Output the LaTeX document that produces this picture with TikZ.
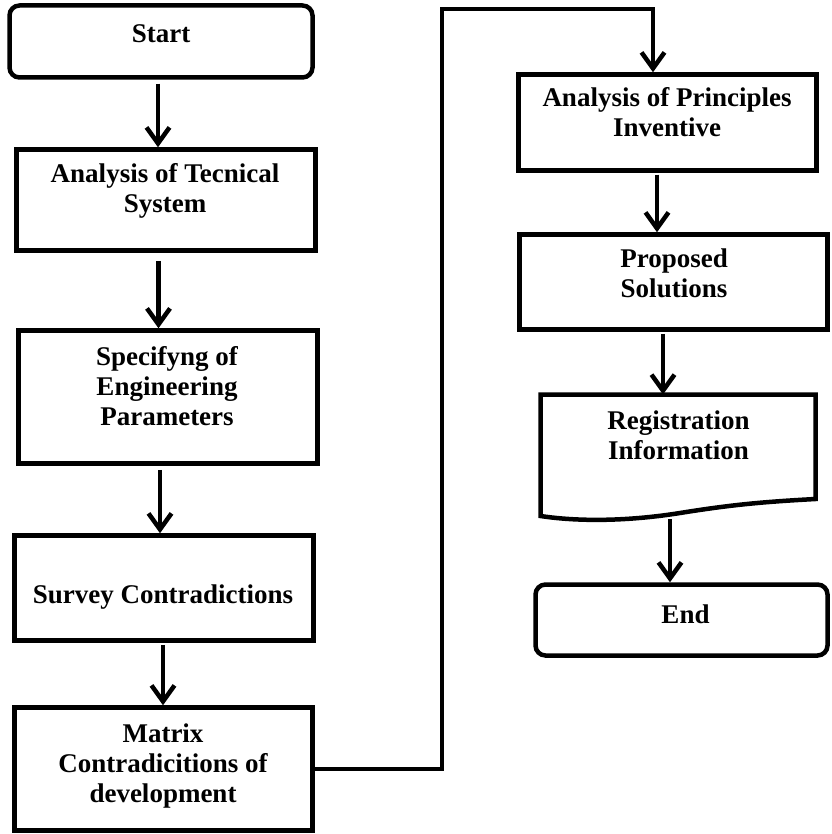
\documentclass[tikz,border=0pt]{standalone}
\usepackage{fontspec}
\setmainfont{Liberation Serif}
\usetikzlibrary{arrows.meta}
\newcommand\mylines[1]{\begin{tabular}[t]{@{}c@{}}#1\end{tabular}}
\begin{document}
\begin{tikzpicture}[x=1pt,y=-1pt,
  box/.style={draw, line width=4.5pt, inner sep=0pt},
  rbox/.style={box, rounded corners=10pt},
  txt/.style={font=\bfseries\fontsize{27}{30}\selectfont, anchor=base, inner sep=0pt},
  arr/.style={line width=4.5pt, -{Straight Barb[length=16pt,width=23pt]}},
  conn/.style={line width=4.5pt}]
\useasboundingbox[fill=white] (0,0) rectangle (831,834);
% left column
\node[rbox, minimum width=303pt, minimum height=72pt] (start) at (161,41.5) {};
\node[txt] (tstart) at (161,43) {Start};
\node[box, minimum width=299pt, minimum height=101pt] (a1) at (166,200) {};
\node[txt] (ta1) at (165,183) {\mylines{Analysis of Tecnical\\System}};
\node[box, minimum width=299pt, minimum height=133pt] (a2) at (168,397) {};
\node[txt] (ta2) at (167,365) {\mylines{Specifyng of\\Engineering\\Parameters}};
\node[box, minimum width=299pt, minimum height=105pt] (a3) at (164,588) {};
\node[txt] (ta3) at (163,603) {Survey Contradictions};
\node[box, minimum width=298pt, minimum height=123pt] (a4) at (163.5,769) {};
\node[txt] (ta4) at (163,742) {\mylines{Matrix\\Contradicitions of\\development}};
% right column
\node[box, minimum width=298pt, minimum height=96pt] (b1) at (667.5,122.5) {};
\node[txt] (tb1) at (667,107) {\mylines{Analysis of Principles\\Inventive}};
\node[box, minimum width=308pt, minimum height=95pt] (b2) at (673.5,282) {};
\node[txt] (tb2) at (674,267) {\mylines{Proposed\\Solutions}};
\draw[line width=4.5pt] (540.5,394.5) -- (815.5,394.5) -- (815.5,499)
  .. controls (760,502) and (730,505) .. (680,513)
  .. controls (630,521) and (580,522) .. (540.5,516) -- cycle;
\coordinate (b3t) at (663,394.5);
\coordinate (b3b) at (670,519);
\node[txt] (tb3) at (678.5,429) {\mylines{Registration\\Information}};
\node[rbox, minimum width=292pt, minimum height=71pt] (b4) at (681.5,620) {};
\node[txt] (tb4) at (685.5,623) {End};
% arrow columns
\coordinate (x1) at (158,0);
\coordinate (x2) at (158.5,0);
\coordinate (x3) at (160,0);
\coordinate (x4) at (163,0);
\coordinate (x6) at (657,0);
\coordinate (x7) at (663,0);
\coordinate (x8) at (670,0);
\draw[arr, shorten <=4pt] (start.south -| x1) -- (a1.north -| x1);
\draw[arr, shorten <=8pt] (a1.south -| x2) -- (a2.north -| x2);
\draw[arr, shorten <=4pt] (a2.south -| x3) -- (a3.north -| x3);
\draw[arr, shorten <=2pt] (a3.south -| x4) -- (a4.north -| x4);
\draw[arr, shorten <=2pt] (b1.south -| x6) -- (b2.north -| x6);
\draw[arr, shorten <=2pt] (b2.south -| x7) -- (b3t);
\draw[arr] (b3b) -- (b4.north -| x8);
% long connector
\coordinate (ca) at (442,9);
\coordinate (cb) at (653,9);
\draw[arr] (a4.east) -- (a4.east -| ca) -- (ca) -- (cb) -- (b1.north -| cb);
\end{tikzpicture}
\end{document}
